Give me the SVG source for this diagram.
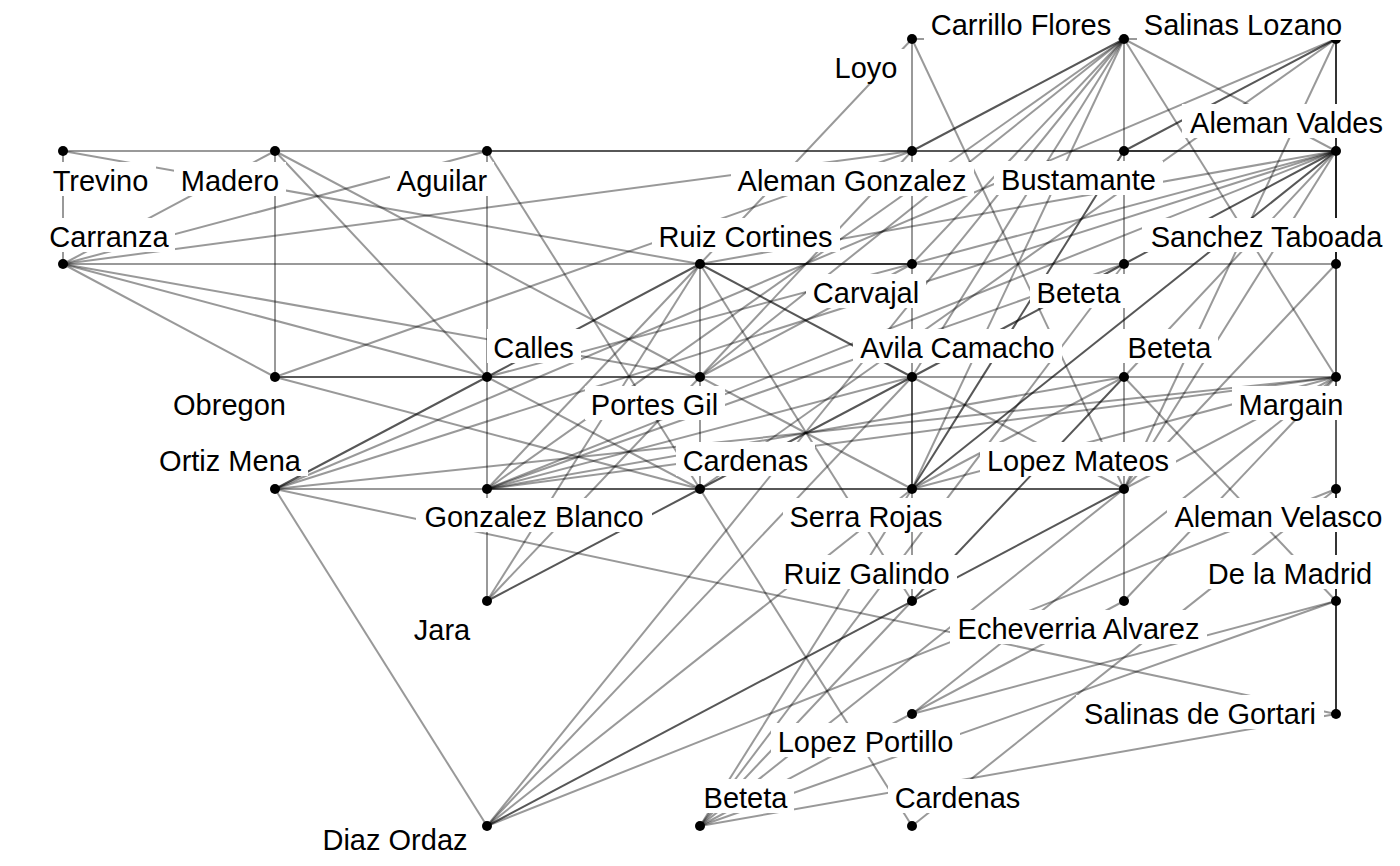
<svg xmlns="http://www.w3.org/2000/svg" width="1400" height="866" viewBox="0 0 1400 866">
<style>
.e{stroke:#000;stroke-opacity:0.4;stroke-width:2;fill:none}
.d{stroke:#000;stroke-opacity:0.66;stroke-width:2;fill:none}
.n circle{fill:#000}
.n rect{fill:#fff}
.n text{font-family:"Liberation Sans",Arial,Helvetica,sans-serif;font-size:29px;fill:#000;text-anchor:middle}
</style>
<rect width="1400" height="866" fill="#fff"/>
<g id="edges">
<line class="e" x1="63" y1="151" x2="275" y2="151"/>
<line class="e" x1="275" y1="151" x2="487" y2="151"/>
<line class="d" x1="487" y1="151" x2="912" y2="151"/>
<line class="d" x1="912" y1="151" x2="1124" y2="151"/>
<line class="d" x1="1124" y1="151" x2="1336" y2="151"/>
<line class="e" x1="1124" y1="151" x2="1336" y2="151"/>
<line class="e" x1="63" y1="151" x2="63" y2="264"/>
<line class="e" x1="63" y1="151" x2="700" y2="264"/>
<line class="e" x1="275" y1="151" x2="63" y2="264"/>
<line class="e" x1="275" y1="151" x2="275" y2="377"/>
<line class="e" x1="275" y1="151" x2="487" y2="377"/>
<line class="e" x1="275" y1="151" x2="700" y2="377"/>
<line class="e" x1="487" y1="151" x2="63" y2="264"/>
<line class="e" x1="487" y1="151" x2="487" y2="377"/>
<line class="e" x1="487" y1="151" x2="700" y2="489"/>
<line class="e" x1="63" y1="264" x2="912" y2="151"/>
<line class="e" x1="63" y1="264" x2="700" y2="264"/>
<line class="e" x1="63" y1="264" x2="275" y2="377"/>
<line class="e" x1="63" y1="264" x2="700" y2="377"/>
<line class="e" x1="63" y1="264" x2="487" y2="377"/>
<line class="e" x1="912" y1="39" x2="912" y2="151"/>
<line class="e" x1="912" y1="39" x2="700" y2="264"/>
<line class="e" x1="912" y1="39" x2="1124" y2="489"/>
<line class="e" x1="912" y1="39" x2="1124" y2="39"/>
<line class="e" x1="1124" y1="39" x2="1336" y2="39"/>
<line class="d" x1="1124" y1="39" x2="912" y2="151"/>
<line class="e" x1="1124" y1="39" x2="1124" y2="151"/>
<line class="e" x1="1124" y1="39" x2="1336" y2="151"/>
<line class="e" x1="1124" y1="39" x2="1336" y2="377"/>
<line class="e" x1="1124" y1="39" x2="912" y2="489"/>
<line class="e" x1="1124" y1="39" x2="487" y2="489"/>
<line class="e" x1="1124" y1="39" x2="700" y2="377"/>
<line class="e" x1="1124" y1="39" x2="912" y2="264"/>
<line class="e" x1="1124" y1="39" x2="912" y2="377"/>
<line class="e" x1="1124" y1="39" x2="487" y2="826"/>
<line class="e" x1="1336" y1="39" x2="1336" y2="714"/>
<line class="d" x1="1336" y1="39" x2="1336" y2="151"/>
<line class="d" x1="1336" y1="39" x2="1124" y2="151"/>
<line class="e" x1="1336" y1="39" x2="275" y2="489"/>
<line class="e" x1="1336" y1="39" x2="700" y2="489"/>
<line class="e" x1="1336" y1="39" x2="1124" y2="489"/>
<line class="e" x1="1336" y1="151" x2="1336" y2="489"/>
<line class="d" x1="1336" y1="151" x2="1336" y2="264"/>
<line class="e" x1="1336" y1="151" x2="700" y2="264"/>
<line class="d" x1="1336" y1="151" x2="1124" y2="264"/>
<line class="d" x1="1336" y1="151" x2="912" y2="489"/>
<line class="e" x1="1336" y1="151" x2="487" y2="377"/>
<line class="e" x1="1336" y1="151" x2="275" y2="489"/>
<line class="e" x1="1336" y1="151" x2="487" y2="489"/>
<line class="d" x1="700" y1="264" x2="912" y2="264"/>
<line class="e" x1="700" y1="264" x2="1336" y2="264"/>
<line class="e" x1="912" y1="151" x2="912" y2="264"/>
<line class="e" x1="912" y1="264" x2="912" y2="377"/>
<line class="d" x1="912" y1="377" x2="912" y2="489"/>
<line class="e" x1="912" y1="489" x2="912" y2="601"/>
<line class="e" x1="1124" y1="151" x2="1124" y2="264"/>
<line class="e" x1="1124" y1="264" x2="1124" y2="377"/>
<line class="e" x1="1124" y1="377" x2="1124" y2="489"/>
<line class="e" x1="1124" y1="489" x2="1124" y2="601"/>
<line class="d" x1="275" y1="377" x2="487" y2="377"/>
<line class="d" x1="487" y1="377" x2="700" y2="377"/>
<line class="e" x1="700" y1="377" x2="912" y2="377"/>
<line class="e" x1="912" y1="377" x2="1124" y2="377"/>
<line class="e" x1="1124" y1="377" x2="1336" y2="377"/>
<line class="e" x1="275" y1="489" x2="487" y2="489"/>
<line class="d" x1="487" y1="489" x2="700" y2="489"/>
<line class="d" x1="700" y1="489" x2="912" y2="489"/>
<line class="d" x1="912" y1="489" x2="1124" y2="489"/>
<line class="e" x1="487" y1="377" x2="487" y2="489"/>
<line class="e" x1="487" y1="489" x2="487" y2="601"/>
<line class="e" x1="700" y1="377" x2="700" y2="489"/>
<line class="e" x1="275" y1="377" x2="912" y2="151"/>
<line class="e" x1="275" y1="377" x2="700" y2="489"/>
<line class="d" x1="275" y1="489" x2="487" y2="377"/>
<line class="d" x1="487" y1="377" x2="700" y2="264"/>
<line class="e" x1="275" y1="489" x2="1336" y2="377"/>
<line class="e" x1="275" y1="489" x2="1336" y2="714"/>
<line class="e" x1="275" y1="489" x2="487" y2="826"/>
<line class="e" x1="487" y1="377" x2="700" y2="489"/>
<line class="d" x1="700" y1="264" x2="912" y2="377"/>
<line class="e" x1="700" y1="264" x2="912" y2="601"/>
<line class="e" x1="700" y1="377" x2="912" y2="489"/>
<line class="d" x1="912" y1="489" x2="1124" y2="151"/>
<line class="e" x1="912" y1="489" x2="1336" y2="377"/>
<line class="e" x1="912" y1="489" x2="1124" y2="377"/>
<line class="e" x1="700" y1="489" x2="912" y2="826"/>
<line class="d" x1="487" y1="826" x2="1124" y2="489"/>
<line class="e" x1="487" y1="826" x2="912" y2="377"/>
<line class="e" x1="487" y1="826" x2="912" y2="489"/>
<line class="e" x1="487" y1="826" x2="1336" y2="489"/>
<line class="e" x1="700" y1="826" x2="912" y2="489"/>
<line class="e" x1="700" y1="826" x2="1124" y2="264"/>
<line class="e" x1="700" y1="826" x2="912" y2="601"/>
<line class="e" x1="700" y1="826" x2="1124" y2="601"/>
<line class="e" x1="700" y1="826" x2="1124" y2="489"/>
<line class="e" x1="700" y1="826" x2="1336" y2="601"/>
<line class="e" x1="700" y1="826" x2="1336" y2="714"/>
<line class="e" x1="912" y1="826" x2="1336" y2="489"/>
<line class="e" x1="912" y1="714" x2="1336" y2="601"/>
<line class="e" x1="487" y1="489" x2="700" y2="264"/>
<line class="e" x1="487" y1="489" x2="912" y2="377"/>
<line class="e" x1="487" y1="489" x2="1336" y2="377"/>
<line class="e" x1="487" y1="489" x2="1124" y2="377"/>
<line class="e" x1="487" y1="489" x2="1124" y2="264"/>
<line class="d" x1="487" y1="601" x2="700" y2="489"/>
<line class="e" x1="487" y1="601" x2="700" y2="377"/>
<line class="e" x1="487" y1="601" x2="700" y2="264"/>
<line class="e" x1="1124" y1="489" x2="1336" y2="151"/>
<line class="e" x1="1124" y1="489" x2="1336" y2="264"/>
<line class="e" x1="1124" y1="489" x2="1336" y2="377"/>
<line class="e" x1="1336" y1="377" x2="912" y2="714"/>
<line class="e" x1="1336" y1="377" x2="1124" y2="601"/>
<line class="e" x1="1124" y1="377" x2="1336" y2="601"/>
<line class="d" x1="912" y1="601" x2="1124" y2="377"/>
<line class="e" x1="1124" y1="377" x2="1336" y2="151"/>
<line class="e" x1="700" y1="377" x2="912" y2="151"/>
<line class="e" x1="700" y1="377" x2="912" y2="264"/>
<line class="e" x1="700" y1="264" x2="700" y2="377"/>
<line class="d" x1="912" y1="377" x2="1124" y2="264"/>
<line class="d" x1="700" y1="489" x2="912" y2="377"/>
<line class="e" x1="912" y1="377" x2="1124" y2="489"/>
<line class="d" x1="1336" y1="489" x2="1336" y2="714"/>
</g>
<g id="n-trevino" class="n"><circle cx="63" cy="151" r="5"/><rect x="45" y="162" width="111" height="34"/><text x="100.5" y="191">Trevino</text></g>
<g id="n-madero" class="n"><circle cx="275" cy="151" r="5"/><rect x="174" y="162" width="112" height="34"/><text x="230" y="191">Madero</text></g>
<g id="n-aguilar" class="n"><circle cx="487" cy="151" r="5"/><rect x="390" y="162" width="104" height="34"/><text x="442" y="191">Aguilar</text></g>
<g id="n-carranza" class="n"><circle cx="63" cy="264" r="5"/><rect x="42" y="218" width="133" height="34"/><text x="109" y="247">Carranza</text></g>
<g id="n-loyo" class="n"><circle cx="912" cy="39" r="5"/><rect x="828" y="49" width="77" height="34"/><text x="866" y="78">Loyo</text></g>
<g id="n-carrillo-flores" class="n"><circle cx="1124" cy="39" r="5"/><rect x="924" y="6" width="194" height="34"/><text x="1021" y="35">Carrillo Flores</text></g>
<g id="n-salinas-lozano" class="n"><circle cx="1336" cy="39" r="5"/><rect x="1137" y="6" width="212" height="34"/><text x="1243" y="35">Salinas Lozano</text></g>
<g id="n-aleman-gonzalez" class="n"><circle cx="912" cy="151" r="5"/><rect x="731" y="162" width="243" height="34"/><text x="852" y="191">Aleman Gonzalez</text></g>
<g id="n-bustamante" class="n"><circle cx="1124" cy="151" r="5"/><rect x="994" y="161" width="169" height="34"/><text x="1078.5" y="190">Bustamante</text></g>
<g id="n-aleman-valdes" class="n"><circle cx="1336" cy="151" r="5"/><rect x="1182" y="104" width="209" height="34"/><text x="1286.5" y="133">Aleman Valdes</text></g>
<g id="n-ruiz-cortines" class="n"><circle cx="700" cy="264" r="5"/><rect x="652" y="218" width="188" height="34"/><text x="745.5" y="247">Ruiz Cortines</text></g>
<g id="n-carvajal" class="n"><circle cx="912" cy="264" r="5"/><rect x="806" y="274" width="120" height="34"/><text x="866" y="303">Carvajal</text></g>
<g id="n-beteta-1" class="n"><circle cx="1124" cy="264" r="5"/><rect x="1030" y="274" width="97" height="34"/><text x="1078.5" y="303">Beteta</text></g>
<g id="n-sanchez-taboada" class="n"><circle cx="1336" cy="264" r="5"/><rect x="1142" y="218" width="249" height="34"/><text x="1266.5" y="247">Sanchez Taboada</text></g>
<g id="n-obregon" class="n"><circle cx="275" cy="377" r="5"/><rect x="166" y="386" width="127" height="34"/><text x="229.5" y="415">Obregon</text></g>
<g id="n-calles" class="n"><circle cx="487" cy="377" r="5"/><rect x="487" y="329" width="94" height="34"/><text x="533.5" y="358">Calles</text></g>
<g id="n-portes-gil" class="n"><circle cx="700" cy="377" r="5"/><rect x="585" y="386" width="140" height="34"/><text x="654.5" y="415">Portes Gil</text></g>
<g id="n-avila-camacho" class="n"><circle cx="912" cy="377" r="5"/><rect x="853" y="329" width="209" height="34"/><text x="957.5" y="358">Avila Camacho</text></g>
<g id="n-beteta-2" class="n"><circle cx="1124" cy="377" r="5"/><rect x="1121" y="329" width="97" height="34"/><text x="1169.5" y="358">Beteta</text></g>
<g id="n-margain" class="n"><circle cx="1336" cy="377" r="5"/><rect x="1232" y="386" width="118" height="34"/><text x="1291" y="415">Margain</text></g>
<g id="n-ortiz-mena" class="n"><circle cx="275" cy="489" r="5"/><rect x="152" y="442" width="156" height="34"/><text x="230" y="471">Ortiz Mena</text></g>
<g id="n-cardenas-1" class="n"><circle cx="700" cy="489" r="5"/><rect x="676" y="442" width="139" height="34"/><text x="745.5" y="471">Cardenas</text></g>
<g id="n-lopez-mateos" class="n"><circle cx="1124" cy="489" r="5"/><rect x="980" y="442" width="196" height="34"/><text x="1078" y="471">Lopez Mateos</text></g>
<g id="n-gonzalez-blanco" class="n"><circle cx="487" cy="489" r="5"/><rect x="416" y="498" width="236" height="34"/><text x="534" y="527">Gonzalez Blanco</text></g>
<g id="n-serra-rojas" class="n"><circle cx="912" cy="489" r="5"/><rect x="783" y="498" width="166" height="34"/><text x="866" y="527">Serra Rojas</text></g>
<g id="n-aleman-velasco" class="n"><circle cx="1336" cy="489" r="5"/><rect x="1167" y="498" width="223" height="34"/><text x="1278.5" y="527">Aleman Velasco</text></g>
<g id="n-ruiz-galindo" class="n"><circle cx="912" cy="601" r="5"/><rect x="776" y="555" width="181" height="34"/><text x="866.5" y="584">Ruiz Galindo</text></g>
<g id="n-de-la-madrid" class="n"><circle cx="1336" cy="601" r="5"/><rect x="1200" y="555" width="180" height="34"/><text x="1290" y="584">De la Madrid</text></g>
<g id="n-jara" class="n"><circle cx="487" cy="601" r="5"/><rect x="407" y="611" width="70" height="34"/><text x="442" y="640">Jara</text></g>
<g id="n-echeverria-alvarez" class="n"><circle cx="1124" cy="601" r="5"/><rect x="950" y="610" width="257" height="34"/><text x="1078.5" y="639">Echeverria Alvarez</text></g>
<g id="n-lopez-portillo" class="n"><circle cx="912" cy="714" r="5"/><rect x="771" y="723" width="189" height="34"/><text x="865.5" y="752">Lopez Portillo</text></g>
<g id="n-salinas-de-gortari" class="n"><circle cx="1336" cy="714" r="5"/><rect x="1076" y="695" width="248" height="34"/><text x="1200" y="724">Salinas de Gortari</text></g>
<g id="n-beteta-3" class="n"><circle cx="700" cy="826" r="5"/><rect x="697" y="779" width="97" height="34"/><text x="745.5" y="808">Beteta</text></g>
<g id="n-cardenas-2" class="n"><circle cx="912" cy="826" r="5"/><rect x="888" y="779" width="139" height="34"/><text x="957.5" y="808">Cardenas</text></g>
<g id="n-diaz-ordaz" class="n"><circle cx="487" cy="826" r="5"/><rect x="316" y="821" width="158" height="34"/><text x="395" y="850">Diaz Ordaz</text></g>
</svg>
